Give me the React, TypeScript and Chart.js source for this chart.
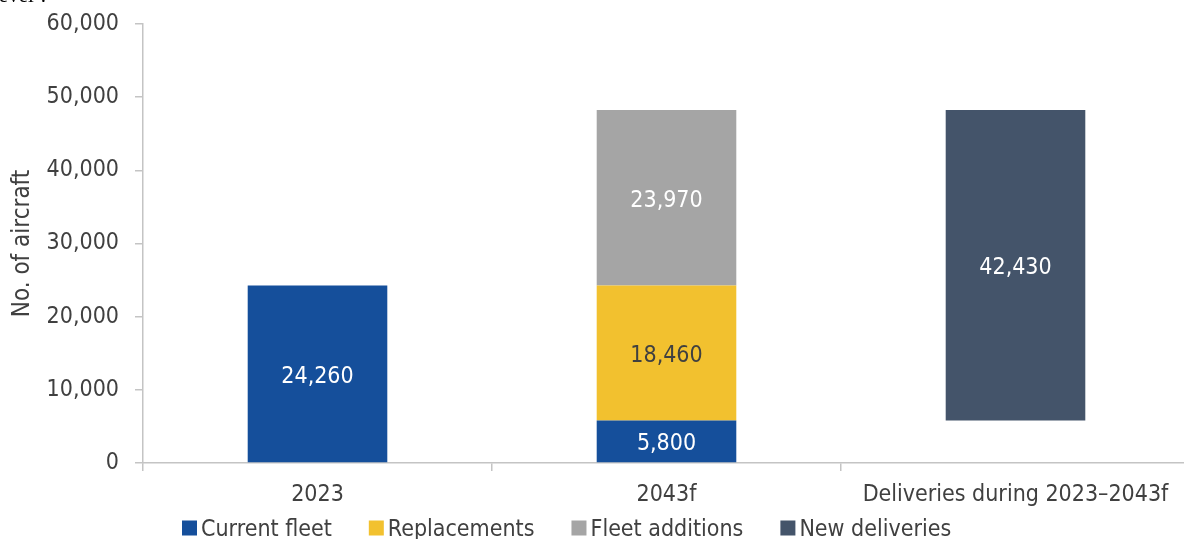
import React, { useEffect, useRef } from 'react';
import { Chart, registerables } from 'chart.js';

Chart.register(...registerables);

// ---- data ----
const categories = ['2023', '2043f', 'Deliveries during 2023–2043f'];
const seriesLabels = ['Current fleet', 'Replacements', 'Fleet additions', 'New deliveries'];
const currentFleet = [24260, 5800, null];
const replacements = [null, 18460, null];
const fleetAdditions = [null, 23970, null];
const deliveriesStart = 5800;
const newDeliveriesTotal = [null, null, 42430];
const yMin = 0;
const yMax = 60000;
const yStep = 10000;

// ---- style ----
const FONT = "'DejaVu Sans Condensed', 'DejaVu Sans', sans-serif";
const TEXT = '#404040';
const AXIS = '#c4c4c4';
const COLORS = ['#154f9b', '#f2c12f', '#a5a5a5', '#44546a'];
const LABEL_COLORS = ['#ffffff', '#404040', '#ffffff', '#ffffff'];

const valueLabelPlugin = {
  id: 'valueLabels',
  afterDatasetsDraw(chart: any) {
    const ctx = chart.ctx;
    ctx.save();
    ctx.font = `23px ${FONT}`;
    ctx.textAlign = 'center';
    ctx.textBaseline = 'middle';
    chart.data.datasets.forEach((ds: any, di: number) => {
      const meta = chart.getDatasetMeta(di);
      meta.data.forEach((el: any, i: number) => {
        const raw = ds.data[i];
        if (raw === null || raw === undefined) return;
        const v = Array.isArray(raw) ? raw[1] - raw[0] : raw;
        const p = el.getCenterPoint();
        ctx.fillStyle = LABEL_COLORS[di];
        ctx.fillText(v.toLocaleString('en-US'), p.x, p.y + 3);
      });
    });
    ctx.restore();
  },
};

const legendPlugin = {
  id: 'customLegend',
  afterDraw(chart: any) {
    const ctx = chart.ctx;
    const opts = chart.options.plugins.customLegend;
    ctx.save();
    ctx.font = `${opts.fontSize}px ${FONT}`;
    ctx.textBaseline = 'middle';
    ctx.textAlign = 'left';
    let x = opts.left;
    const y = opts.y;
    chart.data.datasets.forEach((ds: any) => {
      ctx.fillStyle = ds.backgroundColor;
      ctx.fillRect(x, y - opts.box / 2 - 1, opts.box, opts.box);
      x += opts.box + opts.textGap;
      ctx.fillStyle = TEXT;
      ctx.fillText(ds.label, x, y + 1);
      x += ctx.measureText(ds.label).width + opts.itemGap;
    });
    ctx.restore();
  },
};

export default function App() {
  const ref = useRef<HTMLCanvasElement | null>(null);

  useEffect(() => {
    if (!ref.current) return;
    const chart = new Chart(ref.current, {
      type: 'bar',
      data: {
        labels: categories,
        datasets: [
          { label: seriesLabels[0], data: currentFleet, backgroundColor: COLORS[0] },
          { label: seriesLabels[1], data: replacements, backgroundColor: COLORS[1] },
          { label: seriesLabels[2], data: fleetAdditions, backgroundColor: COLORS[2] },
          {
            label: seriesLabels[3],
            data: newDeliveriesTotal.map((v) => (v === null ? null : [deliveriesStart, deliveriesStart + v])) as any,
            backgroundColor: COLORS[3],
          },
        ],
      },
      options: {
        responsive: true,
        maintainAspectRatio: false,
        animation: false,
        datasets: { bar: { barPercentage: 0.4, categoryPercentage: 1 } },
        layout: { padding: { left: 0, right: 10, top: 24, bottom: 24 } },
        plugins: {
          legend: { display: false },
          tooltip: { enabled: false },
          customLegend: { left: 182, y: 529, box: 15, textGap: 4, itemGap: 37, fontSize: 23 },
        } as any,
        scales: {
          x: {
            stacked: true,
            offset: true,
            grid: {
              display: true,
              drawOnChartArea: false,
              drawTicks: true,
              tickLength: 8,
              offset: true,
              color: AXIS,
              lineWidth: 1.5,
            },
            border: { display: true, color: AXIS, width: 1.5 },
            ticks: {
              color: TEXT,
              font: { size: 23, family: FONT },
              padding: 10,
              maxRotation: 0,
              autoSkip: false,
            },
            afterFit: (s: any) => {
              s.height = 52;
              s.paddingLeft = 0;
              s.paddingRight = 0;
            },
          },
          y: {
            stacked: true,
            min: yMin,
            max: yMax,
            ticks: {
              stepSize: yStep,
              color: TEXT,
              font: { size: 23, family: FONT },
              padding: 16,
            },
            grid: {
              display: true,
              drawOnChartArea: false,
              drawTicks: true,
              tickLength: 8,
              color: AXIS,
              lineWidth: 1.5,
            },
            border: { display: true, color: AXIS, width: 1.5 },
            title: {
              display: true,
              text: 'No. of aircraft',
              color: TEXT,
              font: { size: 24, family: FONT },
              padding: { top: 8, bottom: 0 },
            },
            afterFit: (s: any) => {
              s.width = 143;
              s.paddingTop = 0;
              s.paddingBottom = 0;
            },
          },
        },
      },
      plugins: [valueLabelPlugin, legendPlugin],
    });
    return () => chart.destroy();
  }, []);

  return (
    <div
      style={{
        position: 'fixed',
        left: 0,
        top: 0,
        width: 1184,
        height: 539,
        overflow: 'hidden',
        background: '#fff',
      }}
    >
      <div
        style={{
          position: 'absolute',
          left: -7,
          top: -17,
          fontFamily: "'Liberation Serif', serif",
          fontSize: 21,
          color: '#000',
          whiteSpace: 'nowrap',
          zIndex: 2,
        }}
      >
        level’.
      </div>
      <div style={{ position: 'absolute', left: 0, top: 0, width: 1200, height: 539 }}>
        <canvas ref={ref} />
      </div>
    </div>
  );
}
